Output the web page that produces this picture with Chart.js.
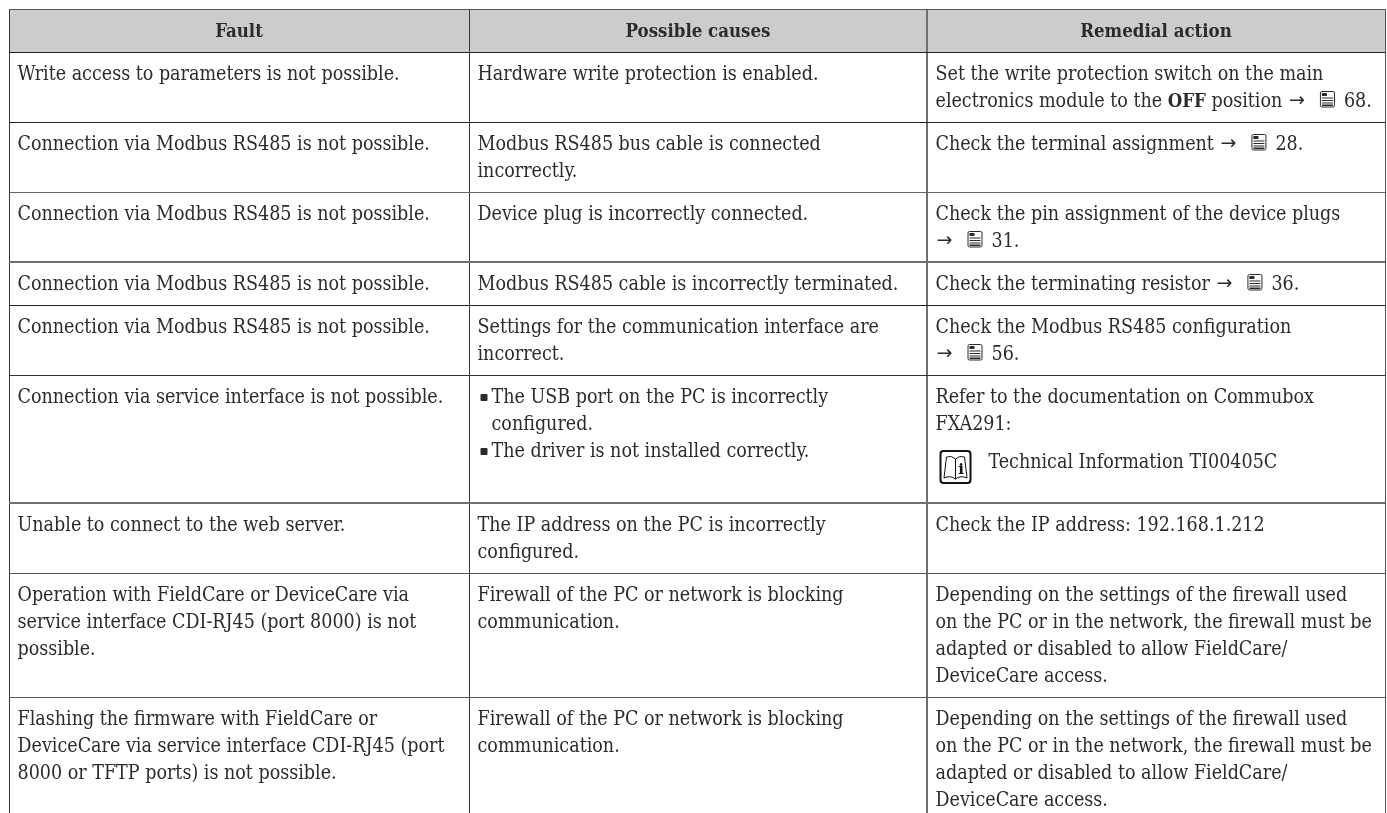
<!DOCTYPE html>
<html>
<head>
<meta charset="utf-8">
<title>Fault table</title>
<script src="https://cdn.jsdelivr.net/npm/chart.js@4/dist/chart.umd.min.js"></script>
<style>
    body { margin: 0; background: #fff; }
    canvas { display: block; }
</style>
</head>
<body>
<canvas id="myChart" width="1387" height="813"></canvas>
<script>
// table structure
const columnEdges = [9, 469, 927, 1385]
const rowEdges = [9, 52, 122, 192, 262, 305, 375, 503, 573, 697]

const headers = ["Fault", "Possible causes", "Remedial action"]

const faults = [
    ["Write access to parameters is not possible."],
    ["Connection via Modbus RS485 is not possible."],
    ["Connection via Modbus RS485 is not possible."],
    ["Connection via Modbus RS485 is not possible."],
    ["Connection via Modbus RS485 is not possible."],
    ["Connection via service interface is not possible."],
    ["Unable to connect to the web server."],
    ["Operation with FieldCare or DeviceCare via", "service interface CDI-RJ45 (port 8000) is not", "possible."],
    ["Flashing the firmware with FieldCare or", "DeviceCare via service interface CDI-RJ45 (port", "8000 or TFTP ports) is not possible."]
]

const causes = [
    ["Hardware write protection is enabled."],
    ["Modbus RS485 bus cable is connected", "incorrectly."],
    ["Device plug is incorrectly connected."],
    ["Modbus RS485 cable is incorrectly terminated."],
    ["Settings for the communication interface are", "incorrect."],
    ["{bullet}The USB port on the PC is incorrectly", "{indent}configured.", "{bullet}The driver is not installed correctly."],
    ["The IP address on the PC is incorrectly", "configured."],
    ["Firewall of the PC or network is blocking", "communication."],
    ["Firewall of the PC or network is blocking", "communication."]
]

const actions = [
    ["Set the write protection switch on the main", "electronics module to the {b}OFF{/b} position {arrow}{page}68."],
    ["Check the terminal assignment {arrow}{page}28."],
    ["Check the pin assignment of the device plugs", "{arrow}{page}31."],
    ["Check the terminating resistor {arrow}{page}36."],
    ["Check the Modbus RS485 configuration", "{arrow}{page}56."],
    ["Refer to the documentation on Commubox", "FXA291:", "{book}Technical Information TI00405C"],
    ["Check the IP address: 192.168.1.212"],
    ["Depending on the settings of the firewall used", "on the PC or in the network, the firewall must be", "adapted or disabled to allow FieldCare/", "DeviceCare access."],
    ["Depending on the settings of the firewall used", "on the PC or in the network, the firewall must be", "adapted or disabled to allow FieldCare/", "DeviceCare access."]
]

// line look per grid line, the scan of the table is not even
const columnLineColors = ["#333333", "#3a3a3a", "#707070", "#555555"]
const columnLineWidths = [1, 1, 2, 1]
const rowLineColors = ["#555555", "#222222", "#222222", "#666666", "#707070", "#222222", "#333333", "#707070", "#555555", "#555555"]
const rowLineWidths = [1, 1, 1, 1, 2, 1, 1, 2, 1, 1]

const textColor = "#2b2b2b"
const regularFont = 'condensed 19.5px "DejaVu Serif"'
const boldFont = 'condensed bold 18.5px "DejaVu Serif"'
const arrowFont = '19px "DejaVu Sans"'

function drawPageIcon(ctx, x, y) {
    ctx.save()
    ctx.strokeStyle = textColor
    ctx.fillStyle = textColor
    ctx.lineWidth = 1
    ctx.beginPath()
    ctx.roundRect(x + 0.5, y - 15.5, 14, 15.5, 1.5)
    ctx.stroke()
    ctx.fillRect(x + 2, y - 14, 5, 3)
    ctx.fillRect(x + 2, y - 9.5, 11, 1)
    ctx.fillRect(x + 2, y - 7, 11, 1)
    ctx.fillRect(x + 2, y - 4.5, 11, 1)
    ctx.fillRect(x + 2, y - 2.5, 11, 1.5)
    ctx.restore()
}

function drawBookIcon(ctx, x, y) {
    ctx.save()
    ctx.strokeStyle = "#111"
    ctx.lineWidth = 2
    ctx.beginPath()
    ctx.roundRect(x + 1, y - 17, 30, 32, 3)
    ctx.stroke()
    ctx.lineWidth = 1
    ctx.beginPath()
    ctx.moveTo(x + 4.5, y + 10)
    ctx.lineTo(x + 7, y - 11)
    ctx.quadraticCurveTo(x + 12, y - 13, x + 16, y - 9)
    ctx.quadraticCurveTo(x + 20, y - 13, x + 25, y - 11)
    ctx.lineTo(x + 27.5, y + 10)
    ctx.quadraticCurveTo(x + 21, y + 7, x + 16, y + 11)
    ctx.quadraticCurveTo(x + 11, y + 7, x + 4.5, y + 10)
    ctx.moveTo(x + 16, y - 9)
    ctx.lineTo(x + 16, y + 11)
    ctx.stroke()
    ctx.fillStyle = "#111"
    ctx.font = 'bold 15px "DejaVu Serif"'
    ctx.textAlign = "center"
    ctx.fillText("i", x + 21.5, y + 6)
    ctx.restore()
}

// writes one line of a cell, handling the inline marks
function drawLine(ctx, line, x, y) {
    const parts = line.split(/(\{[^}]+\})/)
    let cursor = x
    ctx.font = regularFont
    parts.forEach(function (part) {
        if (part === "{b}") {
            ctx.font = boldFont
        } else if (part === "{/b}") {
            ctx.font = regularFont
        } else if (part === "{bullet}") {
            ctx.beginPath()
            ctx.roundRect(cursor + 3, y - 9, 7, 7, 1)
            ctx.fill()
            cursor += 14
        } else if (part === "{indent}") {
            cursor += 14
        } else if (part === "{arrow}") {
            ctx.font = arrowFont
            ctx.fillText("\u2192", cursor + 1, y - 1)
            ctx.font = regularFont
            cursor += 16
        } else if (part === "{page}") {
            drawPageIcon(ctx, cursor + 16, y)
            cursor += 40
        } else if (part === "{book}") {
            y += 11
            drawBookIcon(ctx, cursor + 4, y)
            cursor += 53
        } else if (part) {
            ctx.fillText(part, cursor, y)
            cursor += ctx.measureText(part).width
        }
    })
}

const tableText = {
    id: "tableText",
    afterDraw(chart) {
        const ctx = chart.ctx
        const xScale = chart.scales.x
        const yScale = chart.scales.y
        const columns = [faults, causes, actions]
        ctx.save()
        ctx.fillStyle = textColor
        ctx.textBaseline = "alphabetic"

        headers.forEach(function (name, c) {
            const middle = (columnEdges[c] + columnEdges[c + 1]) / 2
            ctx.font = boldFont
            ctx.textAlign = "center"
            ctx.fillText(name, xScale.getPixelForValue(middle), yScale.getPixelForValue(37))
        })

        ctx.textAlign = "left"
        columns.forEach(function (cells, c) {
            cells.forEach(function (lines, r) {
                const left = xScale.getPixelForValue(columnEdges[c]) + 8.5
                const top = yScale.getPixelForValue(rowEdges[r + 1])
                lines.forEach(function (line, i) {
                    drawLine(ctx, line, left, top + 28 + i * 27)
                })
            })
        })
        ctx.restore()
    }
}

const ctx = document.getElementById("myChart")

new Chart(ctx, {
    type: "line",
    data: {
        datasets: [{
            // grey header band
            data: [
                { x: columnEdges[0], y: rowEdges[0] },
                { x: columnEdges[3], y: rowEdges[0] }
            ],
            fill: { value: rowEdges[1] },
            backgroundColor: "#cccccc",
            borderWidth: 0,
            pointRadius: 0
        }]
    },
    options: {
        responsive: false,
        animation: false,
        events: [],
        layout: { padding: { left: columnEdges[0], top: rowEdges[0], right: 1387 - columnEdges[3], bottom: 0 } },
        plugins: { legend: { display: false }, tooltip: { enabled: false } },
        scales: {
            x: {
                type: "linear",
                min: columnEdges[0],
                max: columnEdges[3],
                afterBuildTicks: function (axis) { axis.ticks = columnEdges.map(function (v) { return { value: v } }) },
                ticks: { display: false },
                border: { display: false },
                grid: {
                    color: function (c) { return columnLineColors[c.index] },
                    lineWidth: function (c) { return columnLineWidths[c.index] },
                    drawTicks: false,
                    z: 1
                }
            },
            y: {
                type: "linear",
                reverse: true,
                min: rowEdges[0],
                max: 813,
                afterBuildTicks: function (axis) { axis.ticks = rowEdges.map(function (v) { return { value: v } }) },
                ticks: { display: false },
                border: { display: false },
                grid: {
                    color: function (c) { return rowLineColors[c.index] },
                    lineWidth: function (c) { return rowLineWidths[c.index] },
                    drawTicks: false,
                    z: 1
                }
            }
        }
    },
    plugins: [tableText]
})
</script>
</body>
</html>
